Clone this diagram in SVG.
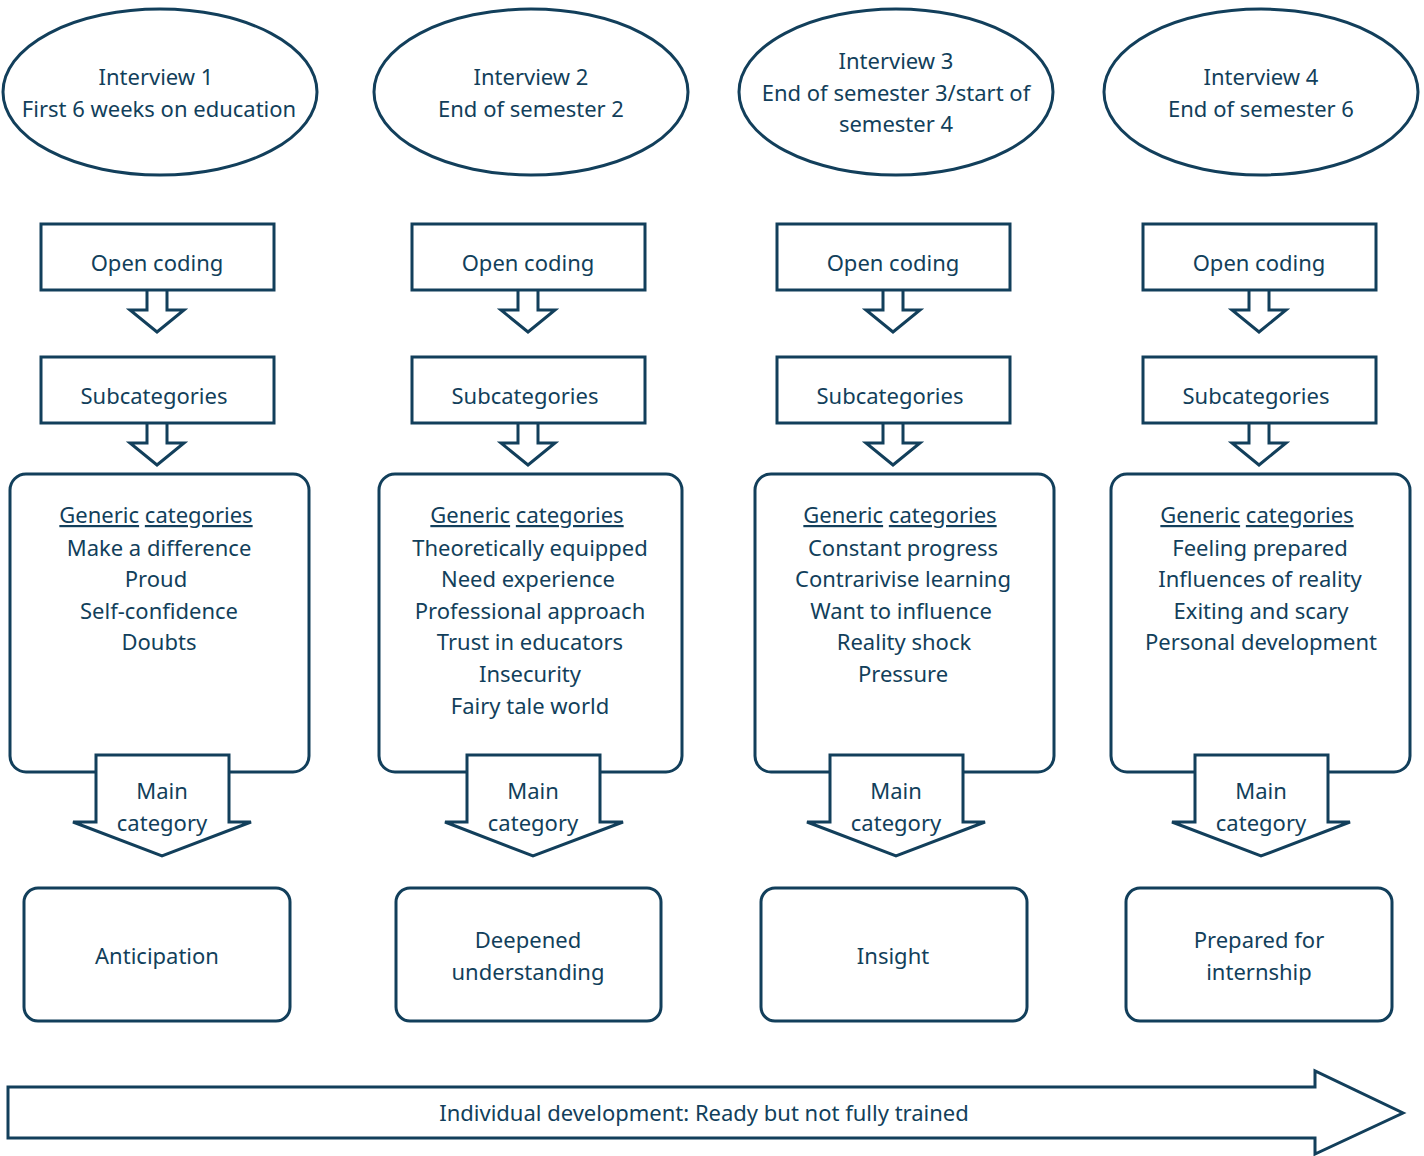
<svg xmlns="http://www.w3.org/2000/svg" width="1424" height="1156" viewBox="0 0 1424 1156">
<style>
.s{fill:#fff;stroke:#123f5b;stroke-width:3;stroke-linejoin:miter}
text{font-family:"Noto Sans","Open Sans","DejaVu Sans",sans-serif;font-size:22px;fill:#123f5b;text-anchor:middle}
.u{text-decoration:underline}
</style>
<defs>
<path id="sa" d="M-10,0 V20 H-27 L0,42 L27,20 H10 V0" class="s"/>
</defs>
<rect width="1424" height="1156" fill="#fff"/>

<g id="connectors">
<use href="#sa" x="157" y="290"/>
<use href="#sa" x="157" y="423"/>
<use href="#sa" x="528" y="290"/>
<use href="#sa" x="528" y="423"/>
<use href="#sa" x="893" y="290"/>
<use href="#sa" x="893" y="423"/>
<use href="#sa" x="1259" y="290"/>
<use href="#sa" x="1259" y="423"/>
</g>

<g id="col1">
<g id="interview1"><ellipse class="s" cx="160" cy="92" rx="157" ry="83"/>
<text x="156" y="85">Interview 1</text><text x="159" y="117">First 6 weeks on education</text></g>
<g id="open1"><rect class="s" x="41" y="224" width="233" height="66"/><text x="157" y="271">Open coding</text></g>
<g id="sub1"><rect class="s" x="41" y="357" width="233" height="66"/><text x="154" y="404">Subcategories</text></g>
<g id="gen1"><rect class="s" x="10" y="474" width="299" height="298" rx="16"/>
<text x="156" y="523"><tspan class="u">Generic</tspan> <tspan class="u">categories</tspan></text>
<text x="159" y="556">Make a difference</text><text x="156" y="587">Proud</text><text x="159" y="619">Self-confidence</text><text x="159" y="650">Doubts</text></g>
<g id="main1"><path class="s" d="M96,755 H229 V822 H251 L162,856 L73,822 H96 Z"/><text x="162" y="799">Main</text><text x="162" y="831">category</text></g>
<g id="res1"><rect class="s" x="24" y="888" width="266" height="133" rx="14"/><text x="157" y="964">Anticipation</text></g>
</g>

<g id="col2">
<g id="interview2"><ellipse class="s" cx="531" cy="92" rx="157" ry="83"/>
<text x="531" y="85">Interview 2</text><text x="531" y="117">End of semester 2</text></g>
<g id="open2"><rect class="s" x="412" y="224" width="233" height="66"/><text x="528" y="271">Open coding</text></g>
<g id="sub2"><rect class="s" x="412" y="357" width="233" height="66"/><text x="525" y="404">Subcategories</text></g>
<g id="gen2"><rect class="s" x="379" y="474" width="303" height="298" rx="16"/>
<text x="527" y="523"><tspan class="u">Generic</tspan> <tspan class="u">categories</tspan></text>
<text x="530" y="556">Theoretically equipped</text><text x="528" y="587">Need experience</text><text x="530" y="619">Professional approach</text><text x="530" y="650">Trust in educators</text><text x="530" y="682">Insecurity</text><text x="530" y="714">Fairy tale world</text></g>
<g id="main2"><path class="s" d="M467,755 H600 V822 H623 L533,856 L445,822 H467 Z"/><text x="533" y="799">Main</text><text x="533" y="831">category</text></g>
<g id="res2"><rect class="s" x="396" y="888" width="265" height="133" rx="14"/><text x="528" y="948">Deepened</text><text x="528" y="980">understanding</text></g>
</g>

<g id="col3">
<g id="interview3"><ellipse class="s" cx="896" cy="92" rx="157" ry="83"/>
<text x="896" y="69">Interview 3</text><text x="896" y="101">End of semester 3/start of</text><text x="896" y="132">semester 4</text></g>
<g id="open3"><rect class="s" x="777" y="224" width="233" height="66"/><text x="893" y="271">Open coding</text></g>
<g id="sub3"><rect class="s" x="777" y="357" width="233" height="66"/><text x="890" y="404">Subcategories</text></g>
<g id="gen3"><rect class="s" x="755" y="474" width="299" height="298" rx="16"/>
<text x="900" y="523"><tspan class="u">Generic</tspan> <tspan class="u">categories</tspan></text>
<text x="903" y="556">Constant progress</text><text x="903" y="587">Contrarivise learning</text><text x="901" y="619">Want to influence</text><text x="904" y="650">Reality shock</text><text x="903" y="682">Pressure</text></g>
<g id="main3"><path class="s" d="M830,755 H963 V822 H985 L896,856 L807,822 H830 Z"/><text x="896" y="799">Main</text><text x="896" y="831">category</text></g>
<g id="res3"><rect class="s" x="761" y="888" width="266" height="133" rx="14"/><text x="893" y="964">Insight</text></g>
</g>

<g id="col4">
<g id="interview4"><ellipse class="s" cx="1261" cy="92" rx="157" ry="83"/>
<text x="1261" y="85">Interview 4</text><text x="1261" y="117">End of semester 6</text></g>
<g id="open4"><rect class="s" x="1143" y="224" width="233" height="66"/><text x="1259" y="271">Open coding</text></g>
<g id="sub4"><rect class="s" x="1143" y="357" width="233" height="66"/><text x="1256" y="404">Subcategories</text></g>
<g id="gen4"><rect class="s" x="1111" y="474" width="299" height="298" rx="16"/>
<text x="1257" y="523"><tspan class="u">Generic</tspan> <tspan class="u">categories</tspan></text>
<text x="1260" y="556">Feeling prepared</text><text x="1260" y="587">Influences of reality</text><text x="1261" y="619">Exiting and scary</text><text x="1261" y="650">Personal development</text></g>
<g id="main4"><path class="s" d="M1195,755 H1328 V822 H1350 L1261,856 L1172,822 H1195 Z"/><text x="1261" y="799">Main</text><text x="1261" y="831">category</text></g>
<g id="res4"><rect class="s" x="1126" y="888" width="266" height="133" rx="14"/><text x="1259" y="948">Prepared for</text><text x="1259" y="980">internship</text></g>
</g>

<g id="timeline"><path class="s" d="M8,1087 H1315 V1071 L1403,1113 L1315,1154 V1138 H8 Z"/>
<text x="704" y="1121">Individual development: Ready but not fully trained</text></g>
</svg>
